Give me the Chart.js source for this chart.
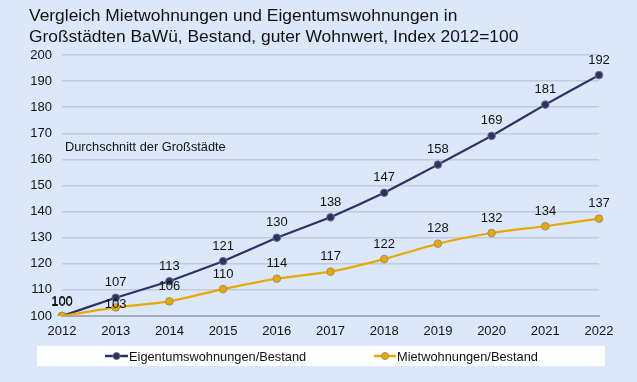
<!DOCTYPE html>
<html>
<head>
<meta charset="utf-8">
<script src="https://cdn.jsdelivr.net/npm/chart.js@4/dist/chart.umd.min.js"></script>
<style>
html,body{margin:0;padding:0;background:#DBE7FA;}
canvas{display:block;}
</style>
</head>
<body>
<canvas id="c" width="637" height="382"></canvas>
<script>
const years = ['2012','2013','2014','2015','2016','2017','2018','2019','2020','2021','2022'];
const eigentum = [100, 107, 113.3, 121, 130, 137.8, 147.2, 158, 169, 181, 192.3];
const miete = [100, 103.3, 105.6, 110.3, 114.3, 117, 121.8, 127.7, 131.8, 134.4, 137.3];
const eigentumLabels = ['100','107','113','121','130','138','147','158','169','181','192'];
const mieteLabels = ['100','103','106','110','114','117','122','128','132','134','137'];
const yTicks = [100,110,120,130,140,150,160,170,180,190,200];
const titleLines = ['Vergleich Mietwohnungen und Eigentumswohnungen in','Großstädten BaWü, Bestand, guter Wohnwert, Index 2012=100'];
const noteText = 'Durchschnitt der Großstädte';

const NAVY = '#2B3362';
const GOLD = '#E8A800';
const FONT = 'Liberation Sans, Arial, sans-serif';

const decor = {
  id: 'decor',
  beforeDraw(chart) {
    const ctx = chart.ctx;
    ctx.save();
    ctx.fillStyle = '#DBE7FA';
    ctx.fillRect(0, 0, chart.width, chart.height);
    ctx.restore();
  },
  afterDatasetsDraw(chart) {
    const ctx = chart.ctx;
    ctx.save();
    ctx.font = '13px ' + FONT;
    ctx.fillStyle = '#111';
    ctx.textAlign = 'center';
    ctx.textBaseline = 'middle';
    chart.data.datasets.forEach((ds, di) => {
      const meta = chart.getDatasetMeta(di);
      meta.data.forEach((pt, i) => {
        let off = ds.labelOffset;
        if (ds.labelOffsetAt && ds.labelOffsetAt[i] !== undefined) off = ds.labelOffsetAt[i];
        ctx.fillText(ds.valueLabels[i], pt.x, pt.y - off);
      });
    });
    ctx.restore();
  },
  afterDraw(chart) {
    const ctx = chart.ctx;
    ctx.save();
    ctx.fillStyle = '#111';
    ctx.font = '17.4px ' + FONT;
    ctx.textAlign = 'left';
    ctx.textBaseline = 'alphabetic';
    ctx.fillText(titleLines[0], 29, 21);
    ctx.fillText(titleLines[1], 29, 42);
    ctx.font = '12.8px ' + FONT;
    ctx.fillText(noteText, 65, 151);
    // legend
    ctx.fillStyle = '#FFFFFF';
    ctx.fillRect(37, 346, 568, 20);
    const items = [
      {x: 105, w: 23, tx: 129, ds: chart.data.datasets[0]},
      {x: 374, w: 22, tx: 397, ds: chart.data.datasets[1]}
    ];
    items.forEach(it => {
      const y = 356;
      ctx.strokeStyle = it.ds.borderColor;
      ctx.lineWidth = 2.5;
      ctx.beginPath(); ctx.moveTo(it.x, y); ctx.lineTo(it.x + it.w, y); ctx.stroke();
      ctx.fillStyle = it.ds.pointBackgroundColor;
      ctx.strokeStyle = it.ds.pointBorderColor;
      ctx.lineWidth = 1;
      ctx.beginPath(); ctx.arc(it.x + it.w / 2, y, 3.5, 0, Math.PI * 2); ctx.fill(); ctx.stroke();
      ctx.fillStyle = '#111';
      ctx.font = '12.8px ' + FONT;
      ctx.textBaseline = 'middle';
      ctx.fillText(it.ds.label, it.tx, y + 1);
    });
    ctx.restore();
  }
};

new Chart(document.getElementById('c'), {
  type: 'line',
  data: {
    labels: years,
    datasets: [
      {
        label: 'Eigentumswohnungen/Bestand',
        data: eigentum,
        valueLabels: eigentumLabels,
        labelOffset: 15,
        borderColor: NAVY,
        borderWidth: 2.2,
        pointBackgroundColor: NAVY,
        pointBorderColor: '#6B7088',
        pointBorderWidth: 1,
        pointRadius: 3.8,
        tension: 0.05,
        order: 2
      },
      {
        label: 'Mietwohnungen/Bestand',
        data: miete,
        valueLabels: mieteLabels,
        labelOffset: 15,
        labelOffsetAt: {0: 14, 1: 3},
        borderColor: GOLD,
        borderWidth: 2.2,
        pointBackgroundColor: GOLD,
        pointBorderColor: '#9A8F7A',
        pointBorderWidth: 1,
        pointRadius: 3.8,
        tension: 0.2,
        order: 1
      }
    ]
  },
  options: {
    responsive: false,
    devicePixelRatio: 1,
    animation: false,
    layout: {padding: {left: 0, right: 38, top: 55, bottom: 0}},
    plugins: {legend: {display: false}, tooltip: {enabled: false}, title: {display: false}},
    scales: {
      x: {
        offset: false,
        grid: {display: false, drawTicks: false},
        border: {display: true, color: '#A3AAB6', width: 2},
        ticks: {padding: 8, color: '#111', font: {family: FONT, size: 13}, maxRotation: 0, autoSkip: false},
        afterFit(s) { s.height = 66; }
      },
      y: {
        min: 100, max: 200,
        afterBuildTicks(s) { s.ticks = yTicks.map(v => ({value: v})); },
        grid: {color: '#C4CBD7', lineWidth: 1.5, drawTicks: false},
        border: {display: false},
        ticks: {padding: 10, color: '#111', font: {family: FONT, size: 13}},
        afterFit(s) { s.width = 62; }
      }
    }
  },
  plugins: [decor]
});
</script>
</body>
</html>
